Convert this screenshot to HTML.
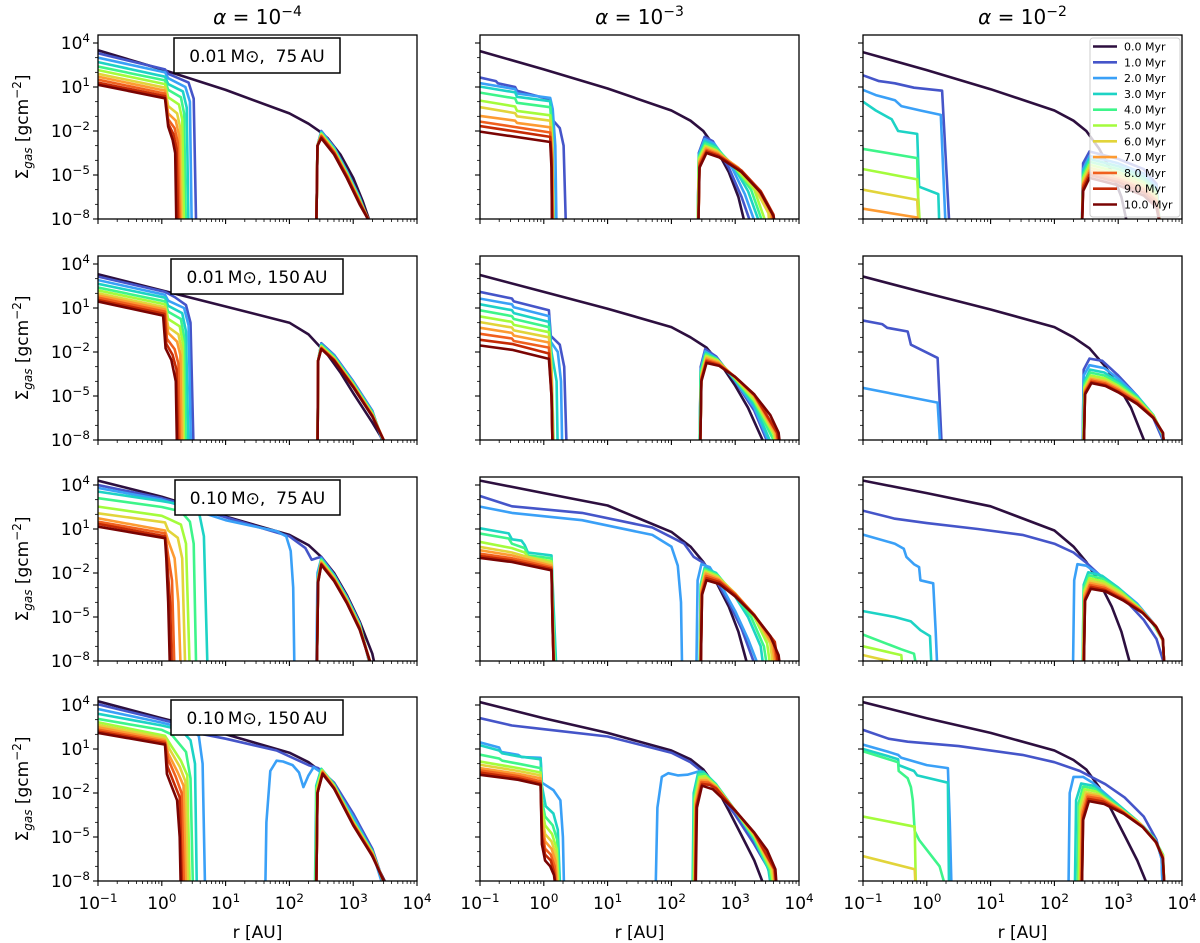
<!DOCTYPE html>
<html><head><meta charset="utf-8"><title>Gas surface density evolution</title>
<style>
html,body{margin:0;padding:0;background:#fff;}
svg{display:block;font-family:"DejaVu Sans","Liberation Sans",sans-serif;}
</style></head>
<body>
<svg id="fig" width="1200" height="943" viewBox="0 0 1200 943" xmlns="http://www.w3.org/2000/svg"></svg>
<script>
// ---------- data (log10 r [AU], log10 Sigma [g cm^-2]) ----------
const timeLabels = ["0.0 Myr","1.0 Myr","2.0 Myr","3.0 Myr","4.0 Myr","5.0 Myr","6.0 Myr","7.0 Myr","8.0 Myr","9.0 Myr","10.0 Myr"];
const seriesColors = ["#2d0f3f","#4555c9","#3aa0f7","#1dd3c5","#3ef58a","#a4fc3c","#e2d43a","#fd9b32","#f0601e","#c52a05","#7a0403"];
const colTitles = ["-4","-3","-2"];
const rowLabels = [["0.01","75"],["0.01","150"],["0.10","75"],["0.10","150"]];
const xTickExps = [-1,0,1,2,3,4];
const yTickExps = [4,1,-2,-5,-8];

const P11 = [
 [[[-1,3.5],[0,2.2],[1,0.8],[2,-0.8],[2.3,-1.5],[2.45,-1.95],[2.6,-2.5],[2.8,-3.6],[3,-5.2],[3.15,-6.8],[3.27,-8.3]]],
 [[[-1,3.3],[0.05,2.2],[0.1,1.9],[0.42,1.3],[0.5,0.2],[0.54,-9]],[[2.42,-9],[2.44,-3],[2.5,-2.0],[2.7,-3.1],[2.9,-4.7],[3.1,-6.5],[3.25,-8.3]]],
 [[[-1,3.0],[0.05,2.0],[0.1,1.6],[0.37,1.0],[0.44,0],[0.47,-9]],[[2.42,-9],[2.44,-3],[2.5,-2.05],[2.7,-3.15],[2.9,-4.75],[3.1,-6.55],[3.25,-8.3]]],
 [[[-1,2.7],[0.05,1.7],[0.1,1.2],[0.33,0.7],[0.39,-0.4],[0.42,-9]],[[2.42,-9],[2.44,-3],[2.5,-2.1],[2.7,-3.2],[2.9,-4.8],[3.1,-6.6],[3.26,-8.3]]],
 [[[-1,2.4],[0.05,1.45],[0.1,0.8],[0.3,0.3],[0.35,-0.8],[0.38,-9]],[[2.42,-9],[2.44,-3],[2.5,-2.15],[2.7,-3.25],[2.9,-4.85],[3.1,-6.65],[3.26,-8.3]]],
 [[[-1,2.15],[0.05,1.2],[0.1,0.3],[0.27,-0.2],[0.32,-1.2],[0.35,-9]],[[2.42,-9],[2.44,-3],[2.5,-2.2],[2.7,-3.3],[2.9,-4.9],[3.1,-6.7],[3.26,-8.3]]],
 [[[-1,1.9],[0.05,0.95],[0.1,-0.3],[0.24,-0.8],[0.29,-1.8],[0.32,-9]],[[2.42,-9],[2.44,-3],[2.5,-2.25],[2.7,-3.35],[2.9,-4.95],[3.1,-6.75],[3.27,-8.3]]],
 [[[-1,1.7],[0.05,0.75],[0.1,-0.8],[0.22,-1.3],[0.27,-2.3],[0.3,-9]],[[2.42,-9],[2.44,-3],[2.5,-2.3],[2.7,-3.4],[2.9,-5.0],[3.1,-6.8],[3.27,-8.3]]],
 [[[-1,1.5],[0.05,0.55],[0.1,-1.2],[0.2,-1.8],[0.25,-2.8],[0.28,-9]],[[2.42,-9],[2.44,-3],[2.5,-2.35],[2.7,-3.45],[2.9,-5.05],[3.1,-6.85],[3.27,-8.3]]],
 [[[-1,1.3],[0.05,0.38],[0.1,-1.5],[0.18,-2.2],[0.23,-3.2],[0.26,-9]],[[2.42,-9],[2.44,-3],[2.5,-2.4],[2.7,-3.5],[2.9,-5.1],[3.1,-6.9],[3.27,-8.3]]],
 [[[-1,1.15],[0.05,0.23],[0.1,-1.7],[0.17,-2.6],[0.21,-3.5],[0.23,-9]],[[2.42,-9],[2.44,-3],[2.5,-2.5],[2.7,-3.6],[2.9,-5.2],[3.1,-7.0],[3.27,-8.3]]]
];
const P12 = [
 [[[-1,3.45],[0,2.2],[1,0.9],[2,-0.6],[2.3,-1.3],[2.5,-2],[2.7,-3.2],[2.9,-4.8],[3.05,-6.5],[3.15,-8.3]]],
 [[[-1,1.65],[-0.75,1.4],[-0.72,1.25],[-0.45,1.0],[-0.42,0.75],[0.1,0.15],[0.13,-1.2],[0.25,-1.8],[0.31,-3],[0.35,-9]],[[2.41,-9],[2.43,-3.5],[2.52,-2.4],[2.65,-2.7],[2.9,-4.5],[3.1,-6.5],[3.26,-8.5]]],
 [[[-1,1.26],[-0.45,0.86],[-0.42,0.56],[0.1,0.26],[0.14,-0.5],[0.18,-3],[0.2,-9]],[[2.41,-9],[2.43,-3.6],[2.52,-2.55],[2.67,-2.85],[2.95,-4.5],[3.15,-6.3],[3.33,-8.5]]],
 [[[-1,1.03],[-0.45,0.63],[-0.42,0.33],[0.1,0.03],[0.13,-1.5],[0.16,-9]],[[2.41,-9],[2.43,-3.7],[2.52,-2.7],[2.68,-3.0],[3.0,-4.6],[3.2,-6.1],[3.4,-8.5]]],
 [[[-1,0.62],[-0.45,0.22],[-0.42,-0.08],[0.1,-0.38],[0.13,-2],[0.15,-9]],[[2.41,-9],[2.43,-3.8],[2.53,-2.85],[2.7,-3.15],[3.0,-4.5],[3.25,-6.0],[3.45,-8.5]]],
 [[[-1,0.07],[-0.45,-0.33],[-0.42,-0.63],[0.1,-0.93],[0.13,-2.5],[0.15,-9]],[[2.41,-9],[2.43,-3.9],[2.53,-3.0],[2.7,-3.3],[3.0,-4.5],[3.3,-6.0],[3.5,-8.5]]],
 [[[-1,-0.38],[-0.45,-0.78],[-0.42,-1.0],[0.1,-1.3],[0.13,-3],[0.15,-9]],[[2.42,-9],[2.44,-4.0],[2.54,-3.1],[2.72,-3.4],[3.0,-4.4],[3.3,-5.8],[3.52,-7.6],[3.55,-9]]],
 [[[-1,-0.97],[-0.45,-1.3],[-0.42,-1.45],[0.1,-1.75],[0.13,-3.5],[0.14,-9]],[[2.42,-9],[2.44,-4.1],[2.54,-3.2],[2.72,-3.5],[3.05,-4.5],[3.35,-5.9],[3.56,-7.6],[3.59,-9]]],
 [[[-1,-1.36],[0.1,-2.1],[0.13,-4],[0.14,-9]],[[2.42,-9],[2.44,-4.2],[2.55,-3.3],[2.73,-3.6],[3.05,-4.6],[3.35,-5.9],[3.58,-7.6],[3.61,-9]]],
 [[[-1,-1.66],[0.1,-2.4],[0.12,-4],[0.13,-9]],[[2.42,-9],[2.44,-4.4],[2.55,-3.4],[2.74,-3.7],[3.1,-4.7],[3.4,-6.1],[3.6,-7.7],[3.63,-9]]],
 [[[-1,-2.04],[0.1,-2.75],[0.12,-4.5],[0.13,-9]],[[2.42,-9],[2.44,-4.5],[2.55,-3.5],[2.75,-3.8],[3.1,-4.8],[3.4,-6.2],[3.6,-7.8],[3.65,-9]]]
];
const P13 = [
 [[[-1,3.37],[0,2.15],[1,0.85],[2,-0.6],[2.3,-1.3],[2.5,-2],[2.7,-3.2],[2.9,-4.8],[3.05,-6.5],[3.14,-8.3]]],
 [[[-1,1.8],[-0.75,1.4],[-0.5,1.25],[-0.2,0.95],[0.24,0.75],[0.36,-9]],[[2.43,-9],[2.45,-4.2],[2.55,-3.4],[3.0,-3.9],[3.4,-4.6],[3.6,-5.6],[3.66,-9]]],
 [[[-1,0.8],[-0.8,0.45],[-0.5,0.1],[-0.4,-0.3],[-0.1,-0.6],[0.22,-0.9],[0.3,-9]],[[2.43,-9],[2.45,-4.6],[2.55,-3.7],[3.0,-4.2],[3.4,-4.9],[3.6,-5.8],[3.66,-9]]],
 [[[-1,0],[-0.8,-0.6],[-0.55,-1.2],[-0.45,-2.0],[-0.15,-2.2],[-0.12,-5.8],[0.18,-6.3],[0.2,-9]],[[2.43,-9],[2.45,-4.8],[2.55,-3.9],[3.0,-4.4],[3.4,-5.1],[3.6,-6.0],[3.67,-9]]],
 [[[-1,-3.22],[-0.15,-3.85],[-0.12,-9]],[[2.43,-9],[2.45,-5.0],[2.55,-4.1],[3.0,-4.6],[3.4,-5.3],[3.6,-6.1],[3.67,-9]]],
 [[[-1,-4.6],[-0.15,-5.3],[-0.1,-9]],[[2.43,-9],[2.45,-5.2],[2.55,-4.3],[3.0,-4.8],[3.4,-5.5],[3.6,-6.3],[3.67,-9]]],
 [[[-1,-6.0],[-0.15,-6.7],[-0.12,-9]],[[2.43,-9],[2.45,-5.4],[2.55,-4.5],[3.0,-5.0],[3.4,-5.7],[3.6,-6.5],[3.67,-9]]],
 [[[-1,-7.3],[-0.15,-7.9],[-0.12,-9]],[[2.43,-9],[2.45,-5.6],[2.55,-4.7],[3.0,-5.2],[3.4,-5.9],[3.6,-6.7],[3.68,-9]]],
 [[[2.43,-9],[2.45,-5.7],[2.55,-4.85],[3.0,-5.35],[3.4,-6.0],[3.6,-6.8],[3.68,-9]]],
 [[[2.43,-9],[2.45,-5.9],[2.55,-5.0],[3.0,-5.5],[3.4,-6.2],[3.6,-7.0],[3.68,-9]]],
 [[[2.43,-9],[2.45,-6.1],[2.55,-5.2],[3.0,-5.7],[3.4,-6.4],[3.6,-7.2],[3.68,-9]]],
 [[[2.43,-9],[2.45,-6.2],[2.55,-5.3],[3.0,-5.8],[3.4,-6.5],[3.6,-7.3],[3.68,-9]]]
].slice(0,11);
const P21 = [
 [[[-1,3.3],[0,2.2],[1,1.1],[2,0],[2.3,-0.8],[2.45,-1.5],[2.6,-2.2],[2.8,-3.4],[3.0,-4.8],[3.3,-6.8],[3.52,-8.4]]],
 [[[-1,3.14],[0.05,2.1],[0.2,1.75],[0.38,1.2],[0.45,0],[0.5,-9]],[[2.44,-9],[2.45,-2.6],[2.5,-1.4],[2.7,-2.2],[3.0,-4.0],[3.3,-6.0],[3.48,-8.4]]],
 [[[-1,2.9],[0.05,1.9],[0.1,1.5],[0.35,1.0],[0.42,-0.2],[0.46,-9]],[[2.44,-9],[2.45,-2.6],[2.5,-1.45],[2.7,-2.25],[3.0,-4.05],[3.3,-6.05],[3.49,-8.4]]],
 [[[-1,2.65],[0.05,1.7],[0.1,1.15],[0.32,0.65],[0.38,-0.6],[0.42,-9]],[[2.44,-9],[2.45,-2.6],[2.5,-1.5],[2.7,-2.3],[3.0,-4.1],[3.3,-6.1],[3.5,-8.4]]],
 [[[-1,2.4],[0.05,1.45],[0.1,0.75],[0.3,0.25],[0.35,-1.0],[0.38,-9]],[[2.44,-9],[2.45,-2.6],[2.5,-1.55],[2.7,-2.35],[3.0,-4.15],[3.3,-6.15],[3.5,-8.4]]],
 [[[-1,2.2],[0.05,1.25],[0.1,0.25],[0.28,-0.25],[0.33,-1.4],[0.35,-9]],[[2.44,-9],[2.45,-2.6],[2.5,-1.6],[2.7,-2.4],[3.0,-4.2],[3.3,-6.2],[3.51,-8.4]]],
 [[[-1,2.0],[0.05,1.05],[0.1,-0.3],[0.26,-0.8],[0.31,-1.8],[0.33,-9]],[[2.44,-9],[2.45,-2.6],[2.5,-1.65],[2.7,-2.45],[3.0,-4.25],[3.3,-6.25],[3.51,-8.4]]],
 [[[-1,1.85],[0.05,0.9],[0.1,-0.7],[0.24,-1.3],[0.29,-2.2],[0.31,-9]],[[2.44,-9],[2.45,-2.6],[2.5,-1.7],[2.7,-2.5],[3.0,-4.3],[3.3,-6.3],[3.52,-8.4]]],
 [[[-1,1.7],[0.05,0.75],[0.08,-1.1],[0.2,-1.8],[0.26,-2.8],[0.28,-9]],[[2.44,-9],[2.45,-2.6],[2.5,-1.72],[2.7,-2.52],[3.0,-4.32],[3.3,-6.32],[3.52,-8.4]]],
 [[[-1,1.55],[0.04,0.6],[0.07,-1.45],[0.17,-2.2],[0.23,-3.2],[0.26,-9]],[[2.44,-9],[2.45,-2.6],[2.5,-1.76],[2.7,-2.56],[3.0,-4.36],[3.3,-6.36],[3.52,-8.4]]],
 [[[-1,1.44],[0.02,0.48],[0.06,-1.75],[0.15,-2.55],[0.22,-4.0],[0.24,-9]],[[2.44,-9],[2.45,-2.6],[2.5,-1.8],[2.7,-2.6],[3.0,-4.4],[3.3,-6.4],[3.52,-8.4]]]
];
const P22 = [
 [[[-1,3.25],[0,2.1],[1,0.95],[2,-0.3],[2.3,-1.0],[2.55,-1.7],[2.8,-3.0],[3.0,-4.3],[3.2,-5.8],[3.47,-8.4]]],
 [[[-1,2.1],[-0.5,1.65],[-0.47,1.45],[0.08,0.85],[0.11,-0.9],[0.25,-1.5],[0.32,-3],[0.36,-9]],[[2.44,-9],[2.46,-3],[2.53,-1.8],[2.7,-2.3],[3.0,-4.0],[3.3,-6.0],[3.52,-8.3]]],
 [[[-1,1.64],[-0.5,1.25],[-0.47,1.05],[0.08,0.45],[0.11,-1.3],[0.22,-2],[0.27,-4],[0.29,-9]],[[2.44,-9],[2.46,-3.2],[2.53,-1.95],[2.7,-2.4],[3.0,-3.95],[3.3,-5.8],[3.54,-8.3]]],
 [[[-1,1.25],[-0.5,0.85],[-0.47,0.65],[0.08,0.05],[0.12,-2],[0.2,-4],[0.22,-9]],[[2.44,-9],[2.46,-3.3],[2.54,-2.05],[2.7,-2.45],[3.0,-3.9],[3.3,-5.6],[3.57,-8.3]]],
 [[[-1,0.84],[-0.5,0.45],[-0.47,0.25],[0.08,-0.3],[0.12,-3],[0.16,-9]],[[2.44,-9],[2.46,-3.4],[2.54,-2.15],[2.72,-2.5],[3.0,-3.85],[3.3,-5.4],[3.6,-8.0],[3.62,-9]]],
 [[[-1,0.43],[-0.5,0.05],[-0.47,-0.15],[0.08,-0.65],[0.12,-3],[0.15,-9]],[[2.45,-9],[2.47,-3.5],[2.54,-2.25],[2.72,-2.55],[3.0,-3.8],[3.3,-5.3],[3.6,-7.6],[3.65,-9]]],
 [[[-1,0.04],[-0.5,-0.33],[-0.47,-0.53],[0.08,-1.0],[0.12,-3.5],[0.15,-9]],[[2.45,-9],[2.47,-3.6],[2.55,-2.35],[2.73,-2.65],[3.0,-3.75],[3.3,-5.1],[3.62,-7.6],[3.67,-9]]],
 [[[-1,-0.35],[-0.5,-0.7],[-0.47,-0.88],[0.08,-1.35],[0.12,-4],[0.14,-9]],[[2.45,-9],[2.47,-3.7],[2.55,-2.45],[2.74,-2.75],[3.0,-3.72],[3.3,-5.0],[3.63,-7.5],[3.69,-9]]],
 [[[-1,-0.76],[-0.5,-1.08],[-0.47,-1.25],[0.08,-1.7],[0.12,-4.5],[0.14,-9]],[[2.45,-9],[2.47,-3.8],[2.55,-2.55],[2.74,-2.82],[3.0,-3.7],[3.3,-4.95],[3.65,-7.5],[3.7,-9]]],
 [[[-1,-1.17],[-0.5,-1.45],[0.08,-2.1],[0.12,-5],[0.14,-9]],[[2.45,-9],[2.47,-3.9],[2.55,-2.65],[2.75,-2.9],[3.0,-3.7],[3.3,-4.9],[3.66,-7.5],[3.71,-9]]],
 [[[-1,-1.56],[-0.5,-1.85],[0.08,-2.47],[0.12,-5],[0.14,-9]],[[2.45,-9],[2.47,-4],[2.55,-2.75],[2.75,-2.95],[3.0,-3.7],[3.3,-4.9],[3.55,-6.3],[3.68,-7.5],[3.72,-9]]]
];
const P23 = [
 [[[-1,3.15],[0,2.0],[1,0.9],[2,-0.3],[2.3,-1.0],[2.55,-1.75],[2.8,-3.0],[3.0,-4.3],[3.2,-5.8],[3.44,-8.4]]],
 [[[-1,0.15],[-0.7,-0.1],[-0.62,-0.35],[-0.3,-0.6],[-0.25,-1.5],[0.17,-2.4],[0.24,-9]],[[2.44,-9],[2.46,-3.2],[2.55,-2.45],[2.75,-2.6],[3.0,-3.6],[3.3,-5.0],[3.55,-6.5],[3.7,-8],[3.72,-9]]],
 [[[-1,-4.45],[0.17,-5.45],[0.22,-9]],[[2.44,-9],[2.46,-3.6],[2.55,-2.9],[2.78,-3.1],[3.0,-3.8],[3.3,-5.0],[3.55,-6.3],[3.7,-7.8],[3.72,-9]]],
 [[[2.45,-9],[2.47,-4.0],[2.56,-3.2],[2.78,-3.4],[3.0,-4.0],[3.3,-5.05],[3.55,-6.3],[3.7,-7.7],[3.73,-9]]],
 [[[2.45,-9],[2.47,-4.2],[2.56,-3.4],[2.78,-3.6],[3.0,-4.15],[3.3,-5.1],[3.55,-6.3],[3.7,-7.6],[3.73,-9]]],
 [[[2.45,-9],[2.47,-4.4],[2.57,-3.6],[2.79,-3.8],[3.0,-4.3],[3.3,-5.2],[3.55,-6.35],[3.7,-7.6],[3.73,-9]]],
 [[[2.46,-9],[2.48,-4.5],[2.57,-3.75],[2.79,-3.95],[3.0,-4.4],[3.3,-5.3],[3.55,-6.4],[3.7,-7.6],[3.73,-9]]],
 [[[2.46,-9],[2.48,-4.6],[2.57,-3.85],[2.8,-4.05],[3.0,-4.5],[3.3,-5.35],[3.55,-6.4],[3.7,-7.55],[3.73,-9]]],
 [[[2.46,-9],[2.48,-4.7],[2.58,-3.95],[2.8,-4.15],[3.0,-4.6],[3.3,-5.4],[3.55,-6.45],[3.7,-7.55],[3.73,-9]]],
 [[[2.46,-9],[2.48,-4.8],[2.58,-4.05],[2.8,-4.25],[3.0,-4.7],[3.3,-5.5],[3.55,-6.45],[3.7,-7.5],[3.73,-9]]],
 [[[2.46,-9],[2.48,-4.9],[2.58,-4.12],[2.8,-4.32],[3.0,-4.75],[3.3,-5.55],[3.55,-6.5],[3.7,-7.5],[3.73,-9]]],
 [[[2.46,-9],[2.48,-5],[2.58,-4.2],[2.8,-4.4],[3.0,-4.8],[3.3,-5.6],[3.55,-6.5],[3.7,-7.5],[3.73,-9]]]
].slice(0,11);
const P31 = [
 [[[-1,4.3],[0,3.2],[1,1.85],[2,0.6],[2.3,-0.1],[2.5,-0.9],[2.7,-2.0],[2.9,-3.5],[3.1,-5.3],[3.3,-7.5],[3.35,-8.5]]],
 [[[-1,4.0],[0,3.1],[0.5,2.5],[1,1.8],[2,0.5],[2.25,-0.3],[2.35,-1.1],[2.42,-1.0],[2.5,-0.9],[2.7,-2.1],[2.9,-3.6],[3.1,-5.4],[3.27,-8.4]]],
 [[[-1,3.8],[0,3.0],[0.5,2.3],[1,1.6],[1.8,0.85],[1.95,0.5],[2.02,-0.5],[2.06,-3],[2.08,-9]],[[2.42,-9],[2.44,-2],[2.5,-1.0],[2.7,-2.15],[2.9,-3.65],[3.1,-5.45],[3.27,-8.4]]],
 [[[-1,3.55],[0,2.9],[0.4,2.6],[0.58,2.2],[0.66,0.5],[0.72,-9]],[[2.43,-9],[2.45,-2.2],[2.5,-1.05],[2.7,-2.2],[2.9,-3.7],[3.1,-5.5],[3.28,-8.4]]],
 [[[-1,3.1],[0,2.5],[0.3,2.2],[0.44,1.5],[0.5,0],[0.54,-9]],[[2.43,-9],[2.45,-2.3],[2.5,-1.1],[2.7,-2.25],[2.9,-3.75],[3.1,-5.55],[3.28,-8.4]]],
 [[[-1,2.53],[0,1.9],[0.1,1.7],[0.3,1.3],[0.38,0],[0.44,-9]],[[2.43,-9],[2.45,-2.4],[2.5,-1.17],[2.7,-2.3],[2.9,-3.8],[3.1,-5.6],[3.28,-8.4]]],
 [[[-1,2.07],[0.05,1.45],[0.1,0.9],[0.25,0.4],[0.32,-1],[0.37,-9]],[[2.43,-9],[2.45,-2.45],[2.5,-1.24],[2.7,-2.35],[2.9,-3.85],[3.1,-5.65],[3.28,-8.4]]],
 [[[-1,1.73],[0.05,0.9],[0.1,0.2],[0.2,-1],[0.26,-4],[0.3,-9]],[[2.43,-9],[2.45,-2.5],[2.5,-1.3],[2.7,-2.4],[2.9,-3.9],[3.1,-5.7],[3.29,-8.4]]],
 [[[-1,1.5],[0.05,0.7],[0.09,-0.5],[0.16,-2.5],[0.2,-9]],[[2.43,-9],[2.45,-2.55],[2.5,-1.35],[2.7,-2.45],[2.9,-3.95],[3.1,-5.75],[3.29,-8.4]]],
 [[[-1,1.35],[0.05,0.5],[0.08,-1],[0.13,-4],[0.16,-9]],[[2.43,-9],[2.45,-2.6],[2.5,-1.4],[2.7,-2.5],[2.9,-4.0],[3.1,-5.8],[3.29,-8.4]]],
 [[[-1,1.16],[0.05,0.37],[0.07,-1],[0.1,-4],[0.13,-9]],[[2.43,-9],[2.45,-2.65],[2.5,-1.45],[2.7,-2.55],[2.9,-4.05],[3.1,-5.85],[3.29,-8.4]]]
];
const P32 = [
 [[[-1,4.3],[0,3.45],[1,2.6],[2,0.8],[2.3,-0.2],[2.5,-1.25],[2.7,-2.6],[2.9,-4.3],[3.05,-6.0],[3.2,-8.4]]],
 [[[-1,3.25],[-0.5,2.55],[0.6,2.1],[1.7,1.1],[2.2,0.0],[2.35,-0.9],[2.5,-1.3],[2.7,-2.5],[2.9,-4.0],[3.1,-5.8],[3.32,-8.4]]],
 [[[-1,2.53],[-0.5,2.1],[0.6,1.6],[1.7,0.6],[2.0,-0.2],[2.1,-1.5],[2.15,-4],[2.17,-9]],[[2.39,-9],[2.41,-2.5],[2.47,-1.4],[2.6,-1.6],[2.8,-3],[3.0,-4.6],[3.2,-6.5],[3.37,-8.4]]],
 [[[-1,1.05],[-0.55,0.7],[-0.5,0.3],[-0.35,0.2],[-0.3,-0.1],[-0.25,-0.6],[0.12,-0.8],[0.15,-4],[0.2,-9]],[[2.44,-9],[2.46,-2.8],[2.52,-1.65],[2.7,-2.0],[3.0,-3.6],[3.2,-5.0],[3.4,-7.0],[3.46,-9]]],
 [[[-1,0.69],[-0.55,0.35],[-0.5,0.0],[-0.3,-0.3],[-0.25,-0.8],[0.12,-1.0],[0.14,-4],[0.18,-9]],[[2.44,-9],[2.46,-2.9],[2.52,-1.75],[2.71,-2.1],[3.0,-3.5],[3.25,-5.0],[3.45,-7.0],[3.52,-9]]],
 [[[-1,0.12],[-0.5,-0.3],[-0.3,-0.6],[-0.25,-0.9],[0.12,-1.2],[0.14,-5],[0.17,-9]],[[2.45,-9],[2.47,-3.0],[2.53,-1.85],[2.72,-2.2],[3.0,-3.4],[3.3,-5.0],[3.5,-6.8],[3.57,-9]]],
 [[[-1,-0.22],[-0.5,-0.6],[-0.3,-0.85],[0.12,-1.35],[0.14,-5],[0.17,-9]],[[2.45,-9],[2.47,-3.1],[2.53,-1.95],[2.73,-2.3],[3.0,-3.4],[3.3,-4.9],[3.55,-6.8],[3.61,-9]]],
 [[[-1,-0.45],[-0.5,-0.8],[0.12,-1.5],[0.14,-5.5],[0.16,-9]],[[2.45,-9],[2.47,-3.2],[2.54,-2.05],[2.73,-2.4],[3.0,-3.4],[3.3,-4.85],[3.58,-6.8],[3.65,-9]]],
 [[[-1,-0.68],[-0.5,-1.0],[0.12,-1.62],[0.14,-5.5],[0.16,-9]],[[2.46,-9],[2.48,-3.3],[2.54,-2.2],[2.74,-2.5],[3.0,-3.45],[3.3,-4.85],[3.6,-6.7],[3.68,-9]]],
 [[[-1,-0.84],[-0.5,-1.15],[0.12,-1.72],[0.14,-6],[0.16,-9]],[[2.46,-9],[2.48,-3.4],[2.55,-2.35],[2.75,-2.62],[3.0,-3.5],[3.3,-4.88],[3.62,-6.7],[3.7,-9]]],
 [[[-1,-0.97],[-0.5,-1.25],[0.12,-1.82],[0.14,-6],[0.16,-9]],[[2.46,-9],[2.48,-3.5],[2.55,-2.5],[2.75,-2.75],[3.0,-3.6],[3.3,-4.9],[3.55,-6.3],[3.68,-7.6],[3.72,-9]]]
];
const P33 = [
 [[[-1,4.3],[0,3.45],[1,2.55],[2,0.9],[2.3,-0.2],[2.5,-1.25],[2.7,-2.6],[2.9,-4.3],[3.05,-6.0],[3.2,-8.4]]],
 [[[-1,2.25],[-0.5,1.7],[0,1.4],[0.8,1.0],[1.5,0.6],[2.0,0.0],[2.3,-0.6],[2.5,-1.3],[2.8,-2.5],[3.1,-3.8],[3.4,-5.2],[3.6,-6.5],[3.72,-8.2],[3.73,-9]]],
 [[[-1,0.62],[-0.5,0.0],[-0.36,-0.35],[-0.32,-0.9],[-0.2,-1.4],[-0.12,-1.6],[-0.1,-2.5],[0.1,-2.7],[0.14,-6],[0.17,-9]],[[2.29,-9],[2.31,-2.5],[2.36,-1.4],[2.5,-1.5],[2.7,-2.1],[3.0,-3.0],[3.3,-4.1],[3.55,-5.4],[3.7,-6.6],[3.73,-9]]],
 [[[-1,-4.6],[-0.5,-5.0],[-0.25,-5.3],[-0.1,-5.9],[0.05,-6.3],[0.08,-9]],[[2.44,-9],[2.46,-2.8],[2.53,-1.95],[2.75,-2.2],[3.0,-3.0],[3.3,-4.2],[3.55,-5.5],[3.7,-6.6],[3.73,-9]]],
 [[[-1,-6.2],[-0.4,-7.2],[-0.2,-7.5],[-0.14,-9]],[[2.44,-9],[2.46,-3.0],[2.54,-2.15],[2.76,-2.4],[3.02,-3.15],[3.32,-4.3],[3.56,-5.55],[3.7,-6.6],[3.73,-9]]],
 [[[-1,-7.0],[-0.4,-7.6],[-0.37,-9]],[[2.45,-9],[2.47,-3.2],[2.55,-2.35],[2.77,-2.58],[3.04,-3.3],[3.34,-4.4],[3.57,-5.55],[3.7,-6.6],[3.73,-9]]],
 [[[-1,-7.6],[-0.5,-8.1]],[[2.45,-9],[2.47,-3.4],[2.55,-2.52],[2.78,-2.75],[3.05,-3.45],[3.35,-4.5],[3.58,-5.6],[3.7,-6.6],[3.73,-9]]],
 [[[2.45,-9],[2.47,-3.55],[2.56,-2.68],[2.78,-2.9],[3.06,-3.6],[3.36,-4.55],[3.58,-5.6],[3.7,-6.6],[3.73,-9]]],
 [[[2.46,-9],[2.48,-3.7],[2.56,-2.82],[2.79,-3.02],[3.07,-3.7],[3.37,-4.6],[3.59,-5.6],[3.7,-6.55],[3.73,-9]]],
 [[[2.46,-9],[2.48,-3.8],[2.57,-2.95],[2.79,-3.15],[3.08,-3.8],[3.38,-4.7],[3.59,-5.65],[3.7,-6.55],[3.73,-9]]],
 [[[2.46,-9],[2.48,-3.9],[2.57,-3.08],[2.8,-3.25],[3.09,-3.9],[3.39,-4.75],[3.6,-5.7],[3.7,-6.5],[3.73,-9]]],
 [[[2.46,-9],[2.48,-4],[2.57,-3.2],[2.8,-3.35],[3.1,-4.0],[3.4,-4.8],[3.6,-5.7],[3.7,-6.5],[3.73,-9]]]
].slice(0,11);
const P41 = [
 [[[-1,4.25],[0,3.1],[1,2.0],[2,0.75],[2.3,0.1],[2.45,-0.4],[2.6,-1.1],[2.8,-2.3],[3.0,-3.8],[3.3,-6.3],[3.55,-8.5]]],
 [[[-1,4.05],[0,3.0],[0.55,2.4],[0.65,2.0],[1,1.7],[1.8,0.9],[2.3,-0.1],[2.45,-0.3],[2.7,-1.3],[3.0,-3.4],[3.3,-5.8],[3.5,-8.4]]],
 [[[-1,3.73],[0,2.8],[0.45,2.3],[0.58,1.9],[0.64,0],[0.68,-9]],[[1.62,-9],[1.64,-4],[1.7,-0.5],[1.8,0.2],[1.9,0.15],[2.05,-0.1],[2.15,-0.6],[2.22,-1.6],[2.3,-0.8],[2.38,-0.25],[2.5,-0.6],[2.7,-1.5],[3.0,-3.6],[3.3,-6.0],[3.47,-8.4]]],
 [[[-1,3.4],[0,2.6],[0.3,2.3],[0.45,1.6],[0.52,0],[0.55,-9]],[[2.4,-9],[2.42,-1.5],[2.5,-0.35],[2.7,-1.4],[3.0,-3.85],[3.3,-5.95],[3.5,-8.4]]],
 [[[-1,3.05],[0,2.3],[0.15,2.0],[0.38,0.8],[0.45,-1],[0.49,-9]],[[2.41,-9],[2.43,-1.6],[2.51,-0.4],[2.7,-1.45],[3.0,-3.9],[3.3,-6.0],[3.5,-8.4]]],
 [[[-1,2.82],[0.05,1.9],[0.15,1.2],[0.3,0.2],[0.4,-0.8],[0.44,-9]],[[2.41,-9],[2.43,-1.7],[2.51,-0.45],[2.7,-1.5],[3.0,-3.95],[3.3,-6.05],[3.51,-8.4]]],
 [[[-1,2.64],[0.05,1.75],[0.12,1.0],[0.28,-0.2],[0.37,-1.2],[0.41,-9]],[[2.42,-9],[2.44,-1.8],[2.52,-0.5],[2.7,-1.55],[3.0,-4.0],[3.3,-6.1],[3.51,-8.4]]],
 [[[-1,2.48],[0.05,1.6],[0.1,0.7],[0.25,-0.6],[0.34,-1.5],[0.38,-9]],[[2.42,-9],[2.44,-1.9],[2.52,-0.55],[2.7,-1.6],[3.0,-4.05],[3.3,-6.15],[3.51,-8.4]]],
 [[[-1,2.32],[0.05,1.5],[0.1,0.3],[0.22,-0.9],[0.31,-2],[0.35,-9]],[[2.42,-9],[2.44,-1.95],[2.52,-0.6],[2.7,-1.65],[3.0,-4.1],[3.3,-6.2],[3.52,-8.4]]],
 [[[-1,2.19],[0.05,1.4],[0.09,-0.2],[0.18,-1.2],[0.28,-2.3],[0.32,-9]],[[2.42,-9],[2.44,-2.0],[2.52,-0.65],[2.7,-1.68],[3.0,-4.15],[3.3,-6.25],[3.52,-8.4]]],
 [[[-1,2.1],[0.05,1.3],[0.08,-0.7],[0.15,-1.5],[0.24,-2.5],[0.28,-5],[0.3,-9]],[[2.42,-9],[2.44,-2.0],[2.52,-0.7],[2.7,-1.7],[3.0,-4.2],[3.3,-6.3],[3.52,-8.4]]]
];
const P42 = [
 [[[-1,4.2],[0,3.1],[1,2.1],[2,0.9],[2.3,0.3],[2.5,-0.4],[2.7,-1.6],[2.9,-3.2],[3.1,-4.9],[3.3,-6.6],[3.46,-8.4]]],
 [[[-1,3.1],[-0.5,2.6],[0,2.35],[1,1.85],[2,0.75],[2.3,0.1],[2.5,-0.6],[2.7,-1.7],[3.0,-3.5],[3.3,-5.5],[3.5,-7.0],[3.62,-8.4]]],
 [[[-1,1.45],[-0.7,1.1],[-0.67,0.8],[-0.4,0.6],[-0.35,0.45],[-0.05,0.4],[-0.03,-1.3],[0.15,-1.8],[0.26,-2.5],[0.3,-5],[0.32,-9]],[[1.75,-9],[1.78,-3],[1.85,-0.9],[1.95,-0.65],[2.1,-0.8],[2.25,-0.75],[2.45,-0.5],[2.6,-1.0],[2.8,-2.0],[3.1,-3.8],[3.4,-5.8],[3.58,-7.5],[3.63,-9]]],
 [[[-1,1.25],[-0.7,0.9],[-0.65,0.7],[-0.4,0.5],[-0.05,0.3],[-0.03,-1.5],[0.03,-2.9],[0.15,-3.4],[0.22,-4.5],[0.26,-9]],[[2.33,-9],[2.35,-2],[2.42,-0.6],[2.5,-0.55],[2.7,-1.4],[3.0,-3.2],[3.3,-5.2],[3.52,-7.2],[3.58,-9]]],
 [[[-1,0.61],[-0.7,0.35],[-0.65,0.2],[-0.4,0.0],[-0.05,-0.3],[-0.03,-2.5],[0.02,-3.6],[0.14,-4.2],[0.21,-5.2],[0.25,-9]],[[2.34,-9],[2.36,-2.2],[2.43,-0.75],[2.52,-0.7],[2.7,-1.45],[3.0,-3.2],[3.3,-5.05],[3.54,-7.2],[3.6,-9]]],
 [[[-1,0.15],[-0.4,-0.3],[-0.05,-0.6],[-0.03,-3.0],[0.02,-4.2],[0.13,-4.8],[0.2,-5.8],[0.24,-9]],[[2.35,-9],[2.37,-2.4],[2.44,-0.9],[2.53,-0.85],[2.7,-1.5],[3.0,-3.2],[3.3,-4.95],[3.56,-7.2],[3.62,-9]]],
 [[[-1,-0.08],[-0.4,-0.5],[-0.05,-0.8],[-0.03,-3.5],[0.02,-4.8],[0.12,-5.3],[0.19,-6.2],[0.23,-9]],[[2.36,-9],[2.38,-2.5],[2.45,-1.05],[2.54,-1.0],[2.7,-1.55],[3.0,-3.2],[3.3,-4.85],[3.58,-7.2],[3.63,-9]]],
 [[[-1,-0.3],[-0.4,-0.7],[-0.05,-1.0],[-0.03,-4],[0.02,-5.3],[0.12,-5.8],[0.18,-6.6],[0.22,-9]],[[2.36,-9],[2.38,-2.7],[2.46,-1.15],[2.55,-1.15],[2.7,-1.6],[3.0,-3.2],[3.3,-4.8],[3.6,-7.2],[3.64,-9]]],
 [[[-1,-0.46],[-0.4,-0.85],[-0.05,-1.2],[-0.03,-4.5],[0.02,-5.8],[0.11,-6.2],[0.17,-7],[0.21,-9]],[[2.37,-9],[2.39,-2.8],[2.47,-1.25],[2.58,-1.3],[2.7,-1.65],[3.0,-3.2],[3.3,-4.75],[3.61,-7.2],[3.65,-9]]],
 [[[-1,-0.6],[-0.4,-1.0],[-0.05,-1.35],[-0.03,-5],[0.02,-6.2],[0.11,-6.6],[0.16,-7.4],[0.2,-9]],[[2.37,-9],[2.39,-2.9],[2.48,-1.38],[2.6,-1.45],[2.7,-1.7],[3.0,-3.2],[3.3,-4.72],[3.62,-7.2],[3.66,-9]]],
 [[[-1,-0.76],[-0.4,-1.1],[-0.05,-1.45],[-0.03,-5.5],[0.02,-6.6],[0.1,-7.0],[0.16,-7.6],[0.2,-9]],[[2.38,-9],[2.4,-3],[2.48,-1.5],[2.65,-1.75],[3.0,-3.2],[3.3,-4.7],[3.5,-5.9],[3.63,-7.2],[3.66,-9]]]
];
const P43 = [
 [[[-1,4.2],[0,3.1],[1,2.1],[2,0.9],[2.3,0.25],[2.5,-0.4],[2.7,-1.6],[2.9,-3.2],[3.1,-4.9],[3.3,-6.6],[3.47,-8.4]]],
 [[[-1,2.3],[-0.6,1.7],[-0.3,1.5],[0.5,1.2],[1.5,0.6],[2.0,0.1],[2.4,-0.5],[2.8,-1.4],[3.1,-2.3],[3.4,-3.6],[3.6,-5.2],[3.68,-6.5],[3.7,-9]]],
 [[[-1,1.3],[-0.6,0.8],[-0.45,0.6],[-0.4,0.4],[0.0,-0.1],[0.33,-0.3],[0.36,-4],[0.39,-9]],[[2.22,-9],[2.24,-2],[2.3,-0.9],[2.45,-0.9],[2.6,-1.3],[3.0,-2.8],[3.4,-4.3],[3.6,-5.3],[3.68,-6.5],[3.7,-9]]],
 [[[-1,1.0],[-0.6,0.5],[-0.45,0.3],[-0.44,-0.1],[-0.2,-0.5],[-0.15,-0.8],[0.33,-1.3],[0.35,-9]],[[2.32,-9],[2.34,-2.5],[2.42,-1.35],[2.6,-1.5],[3.0,-2.8],[3.3,-3.9],[3.55,-5.0],[3.7,-6.2],[3.73,-9]]],
 [[[-1,0.85],[-0.6,0.3],[-0.45,0.1],[-0.44,-0.5],[-0.3,-1.0],[-0.25,-1.6],[-0.22,-2.5],[-0.19,-4.6],[-0.12,-5.2],[0.2,-7.0],[0.33,-9]],[[2.36,-9],[2.38,-2.7],[2.45,-1.55],[2.62,-1.7],[3.0,-2.9],[3.32,-4.0],[3.56,-5.1],[3.7,-6.2],[3.73,-9]]],
 [[[-1,-3.6],[-0.19,-4.3],[-0.17,-9]],[[2.38,-9],[2.4,-2.9],[2.47,-1.75],[2.65,-1.9],[3.0,-3.0],[3.33,-4.05],[3.57,-5.2],[3.7,-6.25],[3.73,-9]]],
 [[[-1,-6.3],[-0.19,-7.2],[-0.17,-9]],[[2.4,-9],[2.42,-3.1],[2.49,-1.95],[2.68,-2.1],[3.02,-3.05],[3.35,-4.1],[3.58,-5.25],[3.7,-6.3],[3.73,-9]]],
 [[[2.41,-9],[2.43,-3.3],[2.51,-2.1],[2.7,-2.25],[3.04,-3.15],[3.36,-4.2],[3.58,-5.3],[3.7,-6.35],[3.73,-9]]],
 [[[2.42,-9],[2.44,-3.5],[2.52,-2.25],[2.73,-2.4],[3.06,-3.25],[3.37,-4.25],[3.59,-5.32],[3.7,-6.4],[3.73,-9]]],
 [[[2.43,-9],[2.45,-3.7],[2.53,-2.4],[2.76,-2.58],[3.08,-3.35],[3.38,-4.3],[3.59,-5.35],[3.7,-6.45],[3.73,-9]]],
 [[[2.43,-9],[2.45,-3.85],[2.54,-2.55],[2.78,-2.75],[3.09,-3.42],[3.39,-4.35],[3.6,-5.38],[3.7,-6.48],[3.73,-9]]],
 [[[2.44,-9],[2.46,-4],[2.55,-2.7],[2.8,-2.9],[3.1,-3.5],[3.4,-4.4],[3.6,-5.4],[3.7,-6.5],[3.73,-9]]]
].slice(0,11);

const panelData = [[P11,P12,P13],[P21,P22,P23],[P31,P32,P33],[P41,P42,P43]];

// ---------- layout ----------
const NS = "http://www.w3.org/2000/svg";
const svg = document.getElementById('fig');
const colX = [98,480,863], rowY = [35,256,477,697], PW = 319, PH = 184;
const xMin = -1, xMax = 4, yTopDec = 4, yBotDec = -8, yTopPad = 8;
function mk(tag, attrs, parent){ const e=document.createElementNS(NS,tag); for(const k in attrs) e.setAttribute(k,attrs[k]); (parent||svg).appendChild(e); return e; }
function sx(c, lr){ return colX[c] + (lr - xMin) * PW / (xMax - xMin); }
function sy(r, ls){ return rowY[r] + yTopPad + (yTopDec - ls) * (PH - yTopPad) / (yTopDec - yBotDec); }

function supLabel(parent, x, y, base, exp, anchor, size, name){
  const t = mk('text',{x:x,y:y,'text-anchor':anchor,'font-size':size,fill:'#000'},parent);
  
  
  t.appendChild(document.createTextNode(base));
  const s = mk('tspan',{dy:-size*0.42,'font-size':size*0.7},t);
  s.textContent = exp.replace('-','\u2212');
  return t;
}

const defs = mk('defs',{});
for(let r=0;r<4;r++){
  for(let c=0;c<3;c++){
    const g = mk('g',{});
    
    
    const cp = mk('clipPath',{id:'cp'+r+c},defs);
    mk('rect',{x:colX[c],y:rowY[r],width:PW,height:PH},cp);
    const lines = mk('g',{'clip-path':'url(#cp'+r+c+')'},g);
    const series = panelData[r][c];
    series.forEach((segs,k)=>{
      segs.forEach((seg,si)=>{
        const d = seg.map((p,i)=>(i?'L':'M')+sx(c,p[0]).toFixed(1)+','+sy(r,p[1]).toFixed(1)).join('');
        const path = mk('path',{d:d,fill:'none',stroke:seriesColors[k],'stroke-width':2.6,'stroke-linejoin':'round','stroke-linecap':'butt'},lines);
        
        
      });
    });
    // frame
    const fr = mk('rect',{x:colX[c],y:rowY[r],width:PW,height:PH,fill:'none',stroke:'#000','stroke-width':1.3},g);
    
    
    // x ticks
    const by = rowY[r]+PH;
    for(let e=xMin;e<=xMax;e++){
      const x = sx(c,e);
      mk('line',{x1:x,x2:x,y1:by,y2:by+5,stroke:'#000','stroke-width':1.1},g);
      if(e<xMax) for(let m=2;m<=9;m++){ const xm=sx(c,e+Math.log10(m)); mk('line',{x1:xm,x2:xm,y1:by,y2:by+3,stroke:'#000','stroke-width':0.8},g); }
      if(r===3) supLabel(g, x, 909, '10', String(e), 'middle', 17, 'x-tick-label');
    }
    // y ticks
    for(let e=yBotDec;e<=yTopDec;e++){
      const y = sy(r,e);
      const major = yTickExps.includes(e);
      mk('line',{x1:colX[c]-(major?5:3),x2:colX[c],y1:y,y2:y,stroke:'#000','stroke-width':major?1.1:0.8},g);
      if(major && c===0) supLabel(g, colX[c]-8, y+6, '10', String(e), 'end', 17, 'y-tick-label');
    }
  }
  // y axis title
  const yt = mk('text',{x:0,y:0,transform:'translate(28,'+(rowY[r]+PH/2)+') rotate(-90)','text-anchor':'middle','font-size':17,fill:'#000'});
  
  
  yt.appendChild(document.createTextNode('\u03A3'));
  const sb = mk('tspan',{dy:4,'font-size':12,'font-style':'italic'},yt); sb.textContent='gas';
  const rest = mk('tspan',{dy:-4},yt); rest.textContent=' [gcm';
  const sp = mk('tspan',{dy:-7,'font-size':12},yt); sp.textContent='\u22122';
  const cl = mk('tspan',{dy:7},yt); cl.textContent=']';
  // row annotation box
  const bx = [174,171,175,171][r], bw = [166,172,165,172][r], byy = rowY[r]+3;
  const ag = mk('g',{});
  
  
  mk('rect',{x:bx,y:byy,width:bw,height:35,fill:'#fff',stroke:'#000','stroke-width':1.5},ag);
  const at = mk('text',{x:bx+bw/2,y:byy+24,'text-anchor':'middle','font-size':17,fill:'#000'},ag);
  at.textContent = rowLabels[r][0]+'\u2009M\u2299, '+(rowLabels[r][1]==='75'?'\u00a0':'')+rowLabels[r][1]+'\u2009AU';
}
// column titles
for(let c=0;c<3;c++){
  const t = mk('text',{x:colX[c]+PW/2,y:24,'text-anchor':'middle','font-size':20,fill:'#000'});
  
  
  const a = mk('tspan',{'font-style':'italic'},t); a.textContent='\u03B1';
  const m = mk('tspan',{},t); m.textContent=' = 10';
  const e = mk('tspan',{dy:-8,'font-size':14},t); e.textContent=colTitles[c].replace('-','\u2212');
  const xl = mk('text',{x:colX[c]+PW/2,y:938,'text-anchor':'middle','font-size':17,fill:'#000'});
  if(c>0){
    
    
    xl.textContent='r [AU]';
  } else {
    
    
    xl.textContent='r [AU]';
  }
}
// legend
const lg = mk('g',{});


mk('rect',{x:1090,y:38,width:90,height:179,rx:3,fill:'#fff','fill-opacity':0.8,stroke:'#ccc','stroke-width':1},lg);
timeLabels.forEach((lab,k)=>{
  const y = 46.5 + k*15.8;
  const eg = mk('g',{},lg);
  
  
  mk('line',{x1:1093,x2:1117,y1:y,y2:y,stroke:seriesColors[k],'stroke-width':2.6},eg);
  const t = mk('text',{x:1124,y:y+4,'font-size':11,fill:'#000'},eg);
  t.textContent = lab;
});
</script>
</body></html>
